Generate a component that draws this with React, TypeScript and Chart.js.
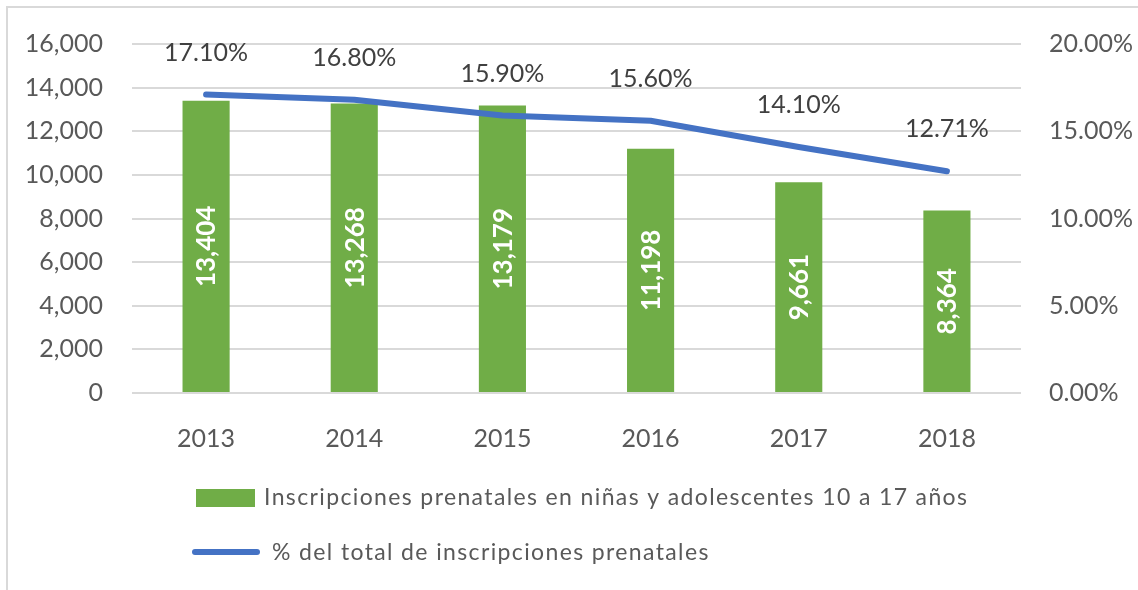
import React, { useEffect, useRef } from "react";
import { Chart, registerables } from "chart.js";

Chart.register(...registerables);

const years = ["2013", "2014", "2015", "2016", "2017", "2018"];
const inscripciones = [13404, 13268, 13179, 11198, 9661, 8364];
const porcentaje = [17.1, 16.8, 15.9, 15.6, 14.1, 12.71];
const barLabels = ["13,404", "13,268", "13,179", "11,198", "9,661", "8,364"];
const lineLabels = ["17.10%", "16.80%", "15.90%", "15.60%", "14.10%", "12.71%"];
const barLegend = "Inscripciones prenatales en niñas y adolescentes 10 a 17 años";
const lineLegend = "% del total de inscripciones prenatales";

const GREEN = "#70AD47";
const BLUE = "#4472C4";
const FONT = "Lato";

const labelsPlugin = {
  id: "customLabels",
  afterDatasetsDraw(chart: any) {
    const ctx = chart.ctx;
    ctx.save();
    const barMeta = chart.getDatasetMeta(1);
    ctx.fillStyle = "#ffffff";
    ctx.font = `bold 26px ${FONT}`;
    ctx.textAlign = "center";
    ctx.textBaseline = "middle";
    barMeta.data.forEach((el: any, i: number) => {
      const cy = (el.y + el.base) / 2;
      ctx.save();
      ctx.translate(el.x, cy);
      ctx.rotate(-Math.PI / 2);
      ctx.fillText(barLabels[i], 0, 1);
      ctx.restore();
    });
    const lineMeta = chart.getDatasetMeta(0);
    ctx.fillStyle = "#404040";
    ctx.font = `25px ${FONT}`;
    lineMeta.data.forEach((el: any, i: number) => {
      ctx.fillText(lineLabels[i], el.x, el.y - 42);
    });
    ctx.restore();
    // right axis (drawn after datasets, z: 1) uses wider spacing
    ctx.letterSpacing = "1.9px";
  },
  afterDraw(chart: any) {
    const ctx = chart.ctx;
    ctx.letterSpacing = "0px";
    ctx.save();
    ctx.fillStyle = GREEN;
    ctx.fillRect(196, 489, 59, 18);
    ctx.strokeStyle = BLUE;
    ctx.lineWidth = 6;
    ctx.lineCap = "round";
    ctx.beginPath();
    ctx.moveTo(195, 552);
    ctx.lineTo(257, 552);
    ctx.stroke();
    ctx.fillStyle = "#595959";
    ctx.font = `23px ${FONT}`;
    ctx.letterSpacing = "1.37px";
    ctx.textAlign = "left";
    ctx.textBaseline = "middle";
    ctx.fillText(barLegend, 264, 498);
    ctx.fillText(lineLegend, 272, 553);
    ctx.restore();
    ctx.letterSpacing = "0px";
  },
};

export default function App() {
  const ref = useRef<HTMLCanvasElement | null>(null);

  useEffect(() => {
    if (!ref.current) return;
    const chart = new Chart(ref.current, {
      type: "bar",
      data: {
        labels: years,
        datasets: [
          {
            type: "line",
            label: lineLegend,
            data: porcentaje,
            yAxisID: "y1",
            borderColor: BLUE,
            backgroundColor: BLUE,
            borderWidth: 6,
            borderCapStyle: "round",
            borderJoinStyle: "round",
            pointRadius: 0,
            tension: 0,
            order: 1,
          } as any,
          {
            type: "bar",
            label: barLegend,
            data: inscripciones,
            yAxisID: "y",
            backgroundColor: GREEN,
            categoryPercentage: 1,
            barPercentage: 0.318,
            order: 2,
          },
        ],
      },
      options: {
        responsive: false,
        animation: false,
        layout: { padding: { top: 42, left: 0, right: 0, bottom: 0 } },
        plugins: {
          legend: { display: false },
          tooltip: { enabled: false },
          title: { display: false },
        },
        scales: {
          x: {
            grid: { display: false },
            border: { display: false },
            ticks: {
              color: "#595959",
              font: { family: FONT, size: 25 },
              padding: 23,
            },
            afterFit: (s: any) => {
              s.height = 197;
            },
          },
          y: {
            position: "left",
            min: 0,
            max: 16000,
            grid: { color: "#d9d9d9", lineWidth: 2, drawTicks: false },
            border: { display: false },
            ticks: {
              stepSize: 2000,
              color: "#595959",
              font: { family: FONT, size: 25 },
              padding: 29,
              callback: (v: any) => Number(v).toLocaleString("en-US"),
            },
            afterFit: (s: any) => {
              s.width = 132;
            },
          },
          y1: {
            position: "right",
            min: 0,
            max: 20,
            z: 1,
            grid: { display: false, drawTicks: false },
            border: { display: false },
            ticks: {
              stepSize: 5,
              color: "#595959",
              font: { family: FONT, size: 25 },
              padding: 28,
              callback: (v: any) => Number(v).toFixed(2) + "%",
            },
            afterFit: (s: any) => {
              s.width = 117;
            },
          },
        },
      },
      plugins: [labelsPlugin],
    });
    return () => chart.destroy();
  }, []);

  return (
    <div style={{ position: "fixed", left: 0, top: 0, width: 1138, height: 590, background: "#fff" }}>
      <canvas ref={ref} width={1138} height={590} style={{ display: "block" }} />
      <div
        style={{
          position: "absolute",
          left: 6,
          top: 6,
          right: 0,
          bottom: 0,
          borderLeft: "2px solid #d9d9d9",
          borderTop: "2px solid #d9d9d9",
          pointerEvents: "none",
        }}
      />
    </div>
  );
}
